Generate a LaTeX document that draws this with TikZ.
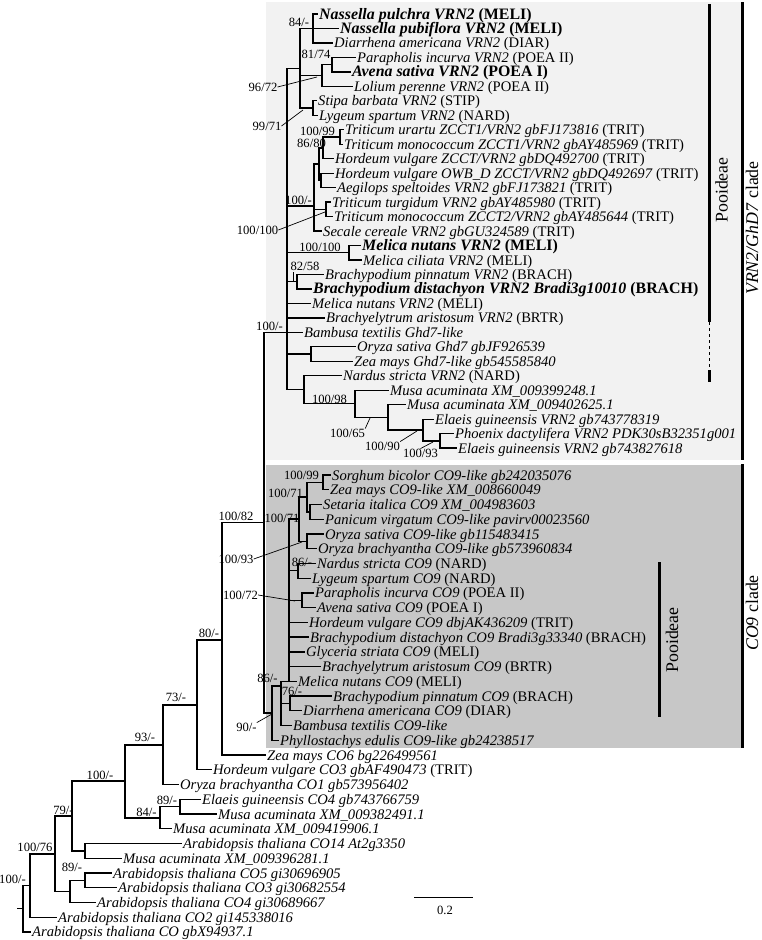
\documentclass[tikz,border=0pt]{standalone}
\usepackage{fontspec}
\setmainfont{Liberation Serif}
\usetikzlibrary{calc}
\newcommand\leaffont{\fontsize{14.6}{16}\selectfont}
\newcommand\boldleaf{\fontsize{15.9}{17}\selectfont\bfseries}
\newcommand\bsfont{\fontsize{12.6}{14}\selectfont}
\newcommand\cladefont{\fontsize{17.8}{19}\selectfont}
\tikzset{
  br/.style={line width=1.25pt, line cap=rect},
  ptr/.style={line width=0.7pt},
  leaf/.style={anchor=west, inner xsep=1.5pt, inner ysep=0pt, text height=11pt, text depth=1pt, font=\leaffont},
  bleaf/.style={leaf, font=\boldleaf},
  bslab/.style={inner sep=0pt, font=\bsfont},
  cladelab/.style={rotate=90, inner sep=0pt, font=\cladefont},
  bar/.style={line width=3pt},
}
\begin{document}
\begin{tikzpicture}[x=1pt,y=-1pt]
\useasboundingbox (0,0) rectangle (762,940);
% background boxes
\fill[black!5] (266,2) rectangle (742,460);
\fill[black!22] (266,465) rectangle (742,748);
% leaves
\node[bleaf] (L1) at (317.5,14.0) {\textit{Nassella pulchra VRN2} (MELI)};
\node[bleaf] (L2) at (338.5,28.5) {\textit{Nassella pubiflora VRN2} (MELI)};
\node[leaf] (L3) at (332.5,42.9) {\textit{Diarrhena americana VRN2} (DIAR)};
\node[leaf] (L4) at (355.5,57.4) {\textit{Parapholis incurva VRN2} (POEA II)};
\node[bleaf] (L5) at (350.5,71.9) {\textit{Avena sativa VRN2} (POEA I)};
\node[leaf] (L6) at (352.5,86.4) {\textit{Lolium perenne VRN2} (POEA II)};
\node[leaf] (L7) at (316.5,100.8) {\textit{Stipa barbata VRN2} (STIP)};
\node[leaf] (L8) at (317.5,115.3) {\textit{Lygeum spartum VRN2} (NARD)};
\node[leaf] (L9) at (343.5,129.8) {\textit{Triticum urartu ZCCT1/VRN2 gbFJ173816} (TRIT)};
\node[leaf] (L10) at (342.5,144.2) {\textit{Triticum monococcum ZCCT1/VRN2 gbAY485969} (TRIT)};
\node[leaf] (L11) at (333.5,158.7) {\textit{Hordeum vulgare ZCCT/VRN2 gbDQ492700} (TRIT)};
\node[leaf] (L12) at (333.5,173.2) {\textit{Hordeum vulgare OWB\_D ZCCT/VRN2 gbDQ492697} (TRIT)};
\node[leaf] (L13) at (335.5,187.6) {\textit{Aegilops speltoides VRN2 gbFJ173821} (TRIT)};
\node[leaf] (L14) at (330.5,202.1) {\textit{Triticum turgidum VRN2 gbAY485980} (TRIT)};
\node[leaf] (L15) at (332.5,216.6) {\textit{Triticum monococcum ZCCT2/VRN2 gbAY485644} (TRIT)};
\node[leaf] (L16) at (321.5,231.1) {\textit{Secale cereale VRN2 gbGU324589} (TRIT)};
\node[bleaf] (L17) at (360.5,245.5) {\textit{Melica nutans VRN2} (MELI)};
\node[leaf] (L18) at (361.5,260.0) {\textit{Melica ciliata VRN2} (MELI)};
\node[leaf] (L19) at (323.5,274.5) {\textit{Brachypodium pinnatum VRN2} (BRACH)};
\node[bleaf] (L20) at (311.5,288.9) {\textit{Brachypodium distachyon VRN2 Bradi3g10010} (BRACH)};
\node[leaf] (L21) at (310.5,303.4) {\textit{Melica nutans VRN2} (MELI)};
\node[leaf] (L22) at (324.5,317.9) {\textit{Brachyelytrum aristosum VRN2} (BRTR)};
\node[leaf] (L23) at (302.5,332.3) {\textit{Bambusa textilis Ghd7-like}};
\node[leaf] (L24) at (355.5,346.8) {\textit{Oryza sativa Ghd7 gbJF926539}};
\node[leaf] (L25) at (352.5,361.3) {\textit{Zea mays Ghd7-like gb545585840}};
\node[leaf] (L26) at (341.5,375.8) {\textit{Nardus stricta VRN2} (NARD)};
\node[leaf] (L27) at (388.5,390.2) {\textit{Musa acuminata XM\_009399248.1}};
\node[leaf] (L28) at (405.5,404.7) {\textit{Musa acuminata XM\_009402625.1}};
\node[leaf] (L29) at (433.5,419.2) {\textit{Elaeis guineensis VRN2 gb743778319}};
\node[leaf] (L30) at (453.5,433.6) {\textit{Phoenix dactylifera VRN2 PDK30sB32351g001}};
\node[leaf] (L31) at (456.5,448.1) {\textit{Elaeis guineensis VRN2 gb743827618}};
\node[leaf] (L32) at (330.5,475.0) {\textit{Sorghum bicolor CO9-like gb242035076}};
\node[leaf] (L33) at (328.5,489.7) {\textit{Zea mays CO9-like XM\_008660049}};
\node[leaf] (L34) at (321.5,504.5) {\textit{Setaria italica CO9 XM\_004983603}};
\node[leaf] (L35) at (323.5,519.2) {\textit{Panicum virgatum CO9-like pavirv00023560}};
\node[leaf] (L36) at (323.5,534.0) {\textit{Oryza sativa CO9-like gb115483415}};
\node[leaf] (L37) at (316.5,548.7) {\textit{Oryza brachyantha CO9-like gb573960834}};
\node[leaf] (L38) at (315.5,563.4) {\textit{Nardus stricta CO9} (NARD)};
\node[leaf] (L39) at (310.5,578.2) {\textit{Lygeum spartum CO9} (NARD)};
\node[leaf] (L40) at (313.5,592.9) {\textit{Parapholis incurva CO9} (POEA II)};
\node[leaf] (L41) at (315.5,607.7) {\textit{Avena sativa CO9} (POEA I)};
\node[leaf] (L42) at (307.5,622.4) {\textit{Hordeum vulgare CO9 dbjAK436209} (TRIT)};
\node[leaf] (L43) at (308.5,637.1) {\textit{Brachypodium distachyon CO9 Bradi3g33340} (BRACH)};
\node[leaf] (L44) at (304.5,651.9) {\textit{Glyceria striata CO9} (MELI)};
\node[leaf] (L45) at (320.5,666.6) {\textit{Brachyelytrum aristosum CO9} (BRTR)};
\node[leaf] (L46) at (296.5,681.4) {\textit{Melica nutans CO9} (MELI)};
\node[leaf] (L47) at (331.5,696.1) {\textit{Brachypodium pinnatum CO9} (BRACH)};
\node[leaf] (L48) at (301.5,710.8) {\textit{Diarrhena americana CO9} (DIAR)};
\node[leaf] (L49) at (291.5,725.6) {\textit{Bambusa textilis CO9-like}};
\node[leaf] (L50) at (278.5,740.3) {\textit{Phyllostachys edulis CO9-like gb24238517}};
\node[leaf] (L51) at (265.5,755.1) {\textit{Zea mays CO6 bg226499561}};
\node[leaf] (L52) at (211.5,769.8) {\textit{Hordeum vulgare CO3 gbAF490473} (TRIT)};
\node[leaf] (L53) at (178.5,784.5) {\textit{Oryza brachyantha CO1 gb573956402}};
\node[leaf] (L54) at (200.5,799.3) {\textit{Elaeis guineensis CO4 gb743766759}};
\node[leaf] (L55) at (216.5,814.0) {\textit{Musa acuminata XM\_009382491.1}};
\node[leaf] (L56) at (171.5,828.8) {\textit{Musa acuminata XM\_009419906.1}};
\node[leaf] (L57) at (181.5,843.5) {\textit{Arabidopsis thaliana CO14 At2g3350}};
\node[leaf] (L58) at (121.5,858.2) {\textit{Musa acuminata XM\_009396281.1}};
\node[leaf] (L59) at (111.5,873.0) {\textit{Arabidopsis thaliana CO5 gi30696905}};
\node[leaf] (L60) at (116.5,887.7) {\textit{Arabidopsis thaliana CO3 gi30682554}};
\node[leaf] (L61) at (95.5,902.5) {\textit{Arabidopsis thaliana CO4 gi30689667}};
\node[leaf] (L62) at (56.5,917.2) {\textit{Arabidopsis thaliana CO2 gi145338016}};
\node[leaf] (L63) at (30.5,931.9) {\textit{Arabidopsis thaliana CO gbX94937.1}};
% internal nodes
\coordinate (r287) at (287,332.3);
\coordinate (n300) at (300,68.3);
\coordinate (n313a) at (313,28.5);
\coordinate (n322) at (322,75.5);
\coordinate (n332) at (332,64.7);
\coordinate (n313b) at (313,108.1);
\coordinate (n340) at (340,137.0);
\coordinate (n323) at (323,147.9);
\coordinate (n319) at (319,164.1);
\coordinate (n321) at (321,180.4);
\coordinate (n326) at (326,209.4);
\coordinate (n314) at (314,206.0);
\coordinate (n349) at (349,252.8);
\coordinate (n297) at (297,281.7);
\coordinate (n311) at (311,354.0);
\coordinate (n304) at (304,389.8);
\coordinate (n355) at (355,403.8);
\coordinate (n388) at (388,417.4);
\coordinate (n423) at (423,430.0);
\coordinate (n440) at (440,440.9);
\coordinate (n264) at (264,522.7);
\coordinate (n272) at (272,713);
\coordinate (n281) at (281,686);
\coordinate (p1) at (289,681.4);
\coordinate (g1) at (299,519);
\coordinate (pan) at (307,497);
\coordinate (sz) at (323,482.4);
\coordinate (sp) at (310,511.9);
\coordinate (orz) at (307,541.4);
\coordinate (nl) at (298,570.8);
\coordinate (pa) at (302,600.3);
\coordinate (bd) at (290,703.5);
\coordinate (n222) at (222,640);
\coordinate (n197) at (197,705);
\coordinate (n163) at (163,745);
\coordinate (n125) at (125,781);
\coordinate (n160) at (160,818);
\coordinate (n180) at (180,806.7);
\coordinate (n72) at (72,816);
\coordinate (n85a) at (85,850.9);
\coordinate (n55) at (55,854);
\coordinate (n70) at (70,891.5);
\coordinate (n85b) at (85,880.4);
\coordinate (n30) at (30,885.6);
\coordinate (root) at (23,908.7);
\coordinate (rootstub) at (18,908.7);
% branches
\begin{scope}[br]
\foreach \c in {n300,n314,n349,n297,L21.west,L22.west,L23.west,n311,n304} \draw (r287) |- (\c);
\foreach \c in {n313a,n322,n313b} \draw (n300) |- (\c);
\foreach \c in {L1,L2,L3} \draw (n313a) |- (\c.west);
\draw (n322) |- (n332); \draw (n322) |- (L6.west);
\draw (n332) |- (L4.west); \draw (n332) |- (L5.west);
\draw (n313b) |- (L7.west); \draw (n313b) |- (L8.west);
\draw (n314) |- (n319); \draw (n314) |- (n326); \draw (n314) |- (L16.west);
\draw (n319) |- (n323); \draw (n319) |- (n321);
\draw (n323) |- (n340); \draw (n323) |- (L11.west);
\draw (n340) |- (L9.west); \draw (n340) |- (L10.west);
\draw (n321) |- (L12.west); \draw (n321) |- (L13.west);
\draw (n326) |- (L14.west); \draw (n326) |- (L15.west);
\draw (n349) |- (L17.west); \draw (n349) |- (L18.west);
\draw (n297) |- (L19.west); \draw (n297) |- (L20.west);
\draw (n311) |- (L24.west); \draw (n311) |- (L25.west);
\draw (n304) |- (L26.west); \draw (n304) |- (n355);
\draw (n355) |- (L27.west); \draw (n355) |- (n388);
\draw (n388) |- (L28.west); \draw (n388) |- (n423);
\draw (n423) |- (L29.west); \draw (n423) |- (n440);
\draw (n440) |- (L30.west); \draw (n440) |- (L31.west);
% CO9
\draw (n264) |- (r287); \draw (n264) |- (n272);
\draw (n272) |- (n281); \draw (n272) |- (L50.west);
\draw (n281) |- (p1); \draw (n281) |- (bd); \draw (n281) |- (L49.west);
\foreach \c in {g1,nl,pa,L42.west,L43.west,L44.west,L45.west,L46.west} \draw (p1) |- (\c);
\draw (g1) |- (pan); \draw (g1) |- (orz);
\draw (pan) |- (sz); \draw (pan) |- (sp);
\draw (sz) |- (L32.west); \draw (sz) |- (L33.west);
\draw (sp) |- (L34.west); \draw (sp) |- (L35.west);
\draw (orz) |- (L36.west); \draw (orz) |- (L37.west);
\draw (nl) |- (L38.west); \draw (nl) |- (L39.west);
\draw (pa) |- (L40.west); \draw (pa) |- (L41.west);
\draw (bd) |- (L47.west); \draw (bd) |- (L48.west);
% outgroups
\draw (n222) |- (n264); \draw (n222) |- (L51.west);
\draw (n197) |- (n222); \draw (n197) |- (L52.west);
\draw (n163) |- (n197); \draw (n163) |- (L53.west);
\draw (n125) |- (n163); \draw (n125) |- (n160);
\draw (n160) |- (n180); \draw (n160) |- (L56.west);
\draw (n180) |- (L54.west); \draw (n180) |- (L55.west);
\draw (n72) |- (n125); \draw (n72) |- (n85a);
\draw (n85a) |- (L57.west); \draw (n85a) |- (L58.west);
\draw (n55) |- (n72); \draw (n55) |- (n70);
\draw (n70) |- (n85b); \draw (n70) |- (L61.west);
\draw (n85b) |- (L59.west); \draw (n85b) |- (L60.west);
\draw (n30) |- (n55); \draw (n30) |- (L62.west);
\draw (root) |- (n30); \draw (root) |- (L63.west);
\draw (rootstub) -- (root);
\end{scope}
% support values
\node[bslab] (s1) at (299,22) {84/-};
\node[bslab] (s2) at (316,54) {81/74};
\node[bslab] (s3) at (263,87) {96/72};
\node[bslab] (s4) at (267,126) {99/71};
\node[bslab] (s5) at (317.5,131) {100/99};
\node[bslab] (s6) at (311.5,143) {86/80};
\node[bslab] (s7) at (298.5,200) {100/-};
\node[bslab] (s8) at (257.5,230) {100/100};
\node[bslab] (s9) at (320,247) {100/100};
\node[bslab] (s10) at (305,266) {82/58};
\node[bslab] (s11) at (269.5,326) {100/-};
\node[bslab] (s12) at (329.5,399) {100/98};
\node[bslab] (s13) at (347.5,433) {100/65};
\node[bslab] (s14) at (382.5,446) {100/90};
\node[bslab] (s15) at (420.5,453) {100/93};
\node[bslab] (s16) at (301.5,475) {100/99};
\node[bslab] (s17) at (285.5,493) {100/71};
\node[bslab] (s18) at (282,518) {100/71};
\node[bslab] (s19) at (236,559) {100/93};
\node[bslab] (s20) at (302,562) {86/-};
\node[bslab] (s21) at (240.5,595) {100/72};
\node[bslab] (s22) at (267.5,678) {86/-};
\node[bslab] (s23) at (292,691) {76/-};
\node[bslab] (s24) at (246.5,727) {90/-};
\node[bslab] (s25) at (236,516) {100/82};
\node[bslab] (s26) at (209,633) {80/-};
\node[bslab] (s27) at (176,697) {73/-};
\node[bslab] (s28) at (145,737) {93/-};
\node[bslab] (s29) at (100,775) {100/-};
\node[bslab] (s30) at (167,800) {89/-};
\node[bslab] (s31) at (146.5,812) {84/-};
\node[bslab] (s32) at (63.5,810) {79/-};
\node[bslab] (s33) at (35,847) {100/76};
\node[bslab] (s34) at (72,867) {89/-};
\node[bslab] (s35) at (12.5,879) {100/-};
% pointer lines
\coordinate (q3) at (317,77); \draw[ptr] (s3.east) -- (q3);
\coordinate (q4) at (303,110); \draw[ptr] (s4.east) -- (q4);
\coordinate (q8) at (325,212); \draw[ptr] (s8.east) -- (q8);
\coordinate (q10a) at (293,272); \coordinate (q10b) at (293,282); \draw[ptr] (q10a) -- (q10b);
\coordinate (q13) at (370,418); \draw[ptr] (s13.north east) -- (q13);
\coordinate (q14) at (417,431); \draw[ptr] (s14.north east) -- (q14);
\coordinate (q15) at (433,442); \draw[ptr] (s15.north) -- (q15);
\coordinate (q19) at (302,542); \draw[ptr] (s19.east) -- (q19);
\coordinate (q21) at (295,601); \draw[ptr] (s21.east) -- (q21);
\coordinate (q24) at (272,714); \draw[ptr] (s24.north east) -- (q24);
% clade bars
\draw[bar] (709,4) -- (709,322);
\draw[line width=0.6pt, dashed] (709,322) -- (709,370);
\draw[bar] (709,370) -- (709,382);
\draw[bar] (742,2) -- (742,460);
\draw[bar] (742,464) -- (742,748);
\draw[bar] (659,562) -- (659,717);
\node[cladelab] (pooA) at (721.5,190) {Pooideae};
\node[cladelab] (vrnc) at (752,228) {\textit{VRN2/GhD7} clade};
\node[cladelab] (co9c) at (752,613) {\textit{CO9} clade};
\node[cladelab] (pooB) at (672,640) {Pooideae};
% scale bar
\coordinate (sb1) at (414,897); \coordinate (sb2) at (473,897);
\draw[line width=1pt] (sb1) -- (sb2);
\node[bslab] (sbl) at (445,910) {0.2};
\end{tikzpicture}
\end{document}
